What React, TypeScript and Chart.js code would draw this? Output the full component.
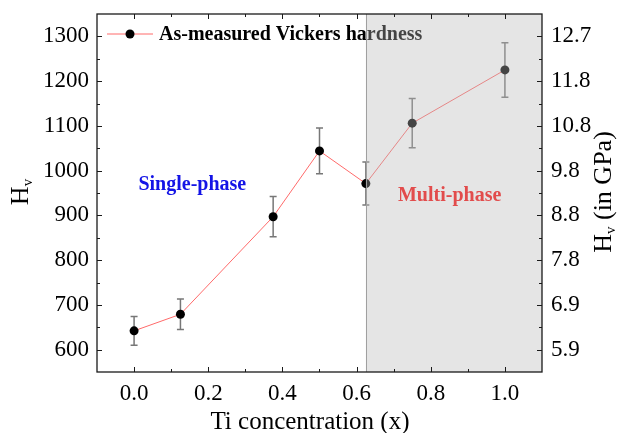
import React, { useEffect, useRef } from "react";
import { Chart, registerables } from "chart.js";

Chart.register(...registerables);

// Vickers hardness vs. Ti concentration
const tiConcentration = [0, 0.125, 0.375, 0.5, 0.625, 0.75, 1.0];
const hardnessHv = [642, 679, 897, 1044, 971, 1106, 1225];
const hardnessError = [32, 34, 45, 51, 48, 55, 61];

const xTickValues = [0, 0.2, 0.4, 0.6, 0.8, 1.0];
const xTickLabels = ["0.0", "0.2", "0.4", "0.6", "0.8", "1.0"];
const hvTickValues = [600, 700, 800, 900, 1000, 1100, 1200, 1300];
const gpaTickLabels = ["5.9", "6.9", "7.8", "8.8", "9.8", "10.8", "11.8", "12.7"];

const multiPhaseStart = 0.625;

const SERIF = "'Liberation Serif', 'Times New Roman', serif";

function drawSubscriptTitle(
  ctx: CanvasRenderingContext2D,
  cx: number,
  cy: number,
  rest: string
) {
  ctx.save();
  ctx.translate(cx, cy);
  ctx.rotate(-Math.PI / 2);
  ctx.fillStyle = "#000";
  ctx.textBaseline = "alphabetic";
  ctx.textAlign = "left";
  const big = `26px ${SERIF}`;
  const small = `15px ${SERIF}`;
  ctx.font = big;
  const wH = ctx.measureText("H").width;
  ctx.font = small;
  const wv = ctx.measureText("v").width;
  ctx.font = big;
  const wRest = rest ? ctx.measureText(rest).width : 0;
  const total = wH + wv + wRest;
  let x = -total / 2;
  const base = 8;
  ctx.font = big;
  ctx.fillText("H", x, base);
  x += wH;
  ctx.font = small;
  ctx.fillText("v", x, base + 4);
  x += wv;
  if (rest) {
    ctx.font = big;
    ctx.fillText(rest, x, base);
  }
  ctx.restore();
}

const decorations = {
  id: "decorations",
  beforeDatasetsDraw(chart: any) {
    const ctx: CanvasRenderingContext2D = chart.ctx;
    const xs = chart.scales.x;
    const ys = chart.scales.y;
    const area = chart.chartArea;

    // error bars
    ctx.save();
    ctx.strokeStyle = "#777777";
    ctx.lineWidth = 1.5;
    tiConcentration.forEach((xv, i) => {
      const px = xs.getPixelForValue(xv);
      const top = ys.getPixelForValue(hardnessHv[i] + hardnessError[i]);
      const bot = ys.getPixelForValue(hardnessHv[i] - hardnessError[i]);
      ctx.beginPath();
      ctx.moveTo(px, top);
      ctx.lineTo(px, bot);
      ctx.moveTo(px - 3.5, top);
      ctx.lineTo(px + 3.5, top);
      ctx.moveTo(px - 3.5, bot);
      ctx.lineTo(px + 3.5, bot);
      ctx.stroke();
    });
    ctx.restore();

    // legend
    ctx.save();
    const ly = area.top + 20;
    const lx = area.left + 10;
    ctx.strokeStyle = "#ff6a6a";
    ctx.lineWidth = 1;
    ctx.beginPath();
    ctx.moveTo(lx, ly);
    ctx.lineTo(lx + 46, ly);
    ctx.stroke();
    ctx.fillStyle = "#000";
    ctx.beginPath();
    ctx.arc(lx + 23, ly, 4.5, 0, Math.PI * 2);
    ctx.fill();
    ctx.font = `bold 20px ${SERIF}`;
    ctx.textBaseline = "middle";
    ctx.textAlign = "left";
    ctx.fillText("As-measured Vickers hardness", lx + 52, ly + 1);
    ctx.restore();
  },
  afterDatasetsDraw(chart: any) {
    const ctx: CanvasRenderingContext2D = chart.ctx;
    const xs = chart.scales.x;
    const ys = chart.scales.y;
    const area = chart.chartArea;

    // multi-phase region
    const sx = xs.getPixelForValue(multiPhaseStart);
    ctx.save();
    ctx.fillStyle = "rgba(184,184,184,0.37)";
    ctx.fillRect(sx, area.top, area.right - sx, area.bottom - area.top);
    ctx.strokeStyle = "#a0a0a0";
    ctx.lineWidth = 1;
    ctx.beginPath();
    ctx.moveTo(Math.round(sx) + 0.5, area.top);
    ctx.lineTo(Math.round(sx) + 0.5, area.bottom);
    ctx.stroke();
    ctx.restore();

    // region labels
    ctx.save();
    ctx.font = `bold 20px ${SERIF}`;
    ctx.textAlign = "center";
    ctx.textBaseline = "middle";
    ctx.fillStyle = "#1414e6";
    ctx.fillText("Single-phase", xs.getPixelForValue(0.157), ys.getPixelForValue(968));
    ctx.fillStyle = "#e24c4c";
    ctx.fillText("Multi-phase", xs.getPixelForValue(0.851), ys.getPixelForValue(943));
    ctx.restore();

    // frame
    ctx.save();
    ctx.strokeStyle = "#1a1a1a";
    ctx.lineWidth = 1.3;
    ctx.strokeRect(area.left, area.top, area.right - area.left, area.bottom - area.top);

    // inward ticks, major and minor, on all four sides
    ctx.lineWidth = 1;
    ctx.beginPath();
    const major = 5;
    const minor = 3;
    for (let v = -0.1; v <= 1.1001; v += 0.1) {
      const isMajor = Math.abs(Math.round(v * 10) % 2) === 0;
      const len = isMajor ? major : minor;
      const px = Math.round(xs.getPixelForValue(v)) + 0.5;
      if (px <= area.left + 1 || px >= area.right - 1) continue;
      ctx.moveTo(px, area.bottom);
      ctx.lineTo(px, area.bottom - len);
      ctx.moveTo(px, area.top);
      ctx.lineTo(px, area.top + len);
    }
    for (let v = 550; v <= 1350; v += 50) {
      const isMajor = v % 100 === 0;
      const len = isMajor ? major : minor;
      const py = Math.round(ys.getPixelForValue(v)) + 0.5;
      if (py <= area.top + 1 || py >= area.bottom - 1) continue;
      ctx.moveTo(area.left, py);
      ctx.lineTo(area.left + len, py);
      ctx.moveTo(area.right, py);
      ctx.lineTo(area.right - len, py);
    }
    ctx.stroke();
    ctx.restore();

    // axis titles
    ctx.save();
    ctx.fillStyle = "#000";
    ctx.font = `25px ${SERIF}`;
    ctx.textAlign = "center";
    ctx.textBaseline = "alphabetic";
    ctx.fillText("Ti concentration (x)", 310, 429);
    ctx.restore();
    drawSubscriptTitle(ctx, 20, 192, "");
    drawSubscriptTitle(ctx, 603, 192, " (in GPa)");
  },
};

export default function App() {
  const canvasRef = useRef<HTMLCanvasElement | null>(null);

  useEffect(() => {
    document.body.style.margin = "0";
    const canvas = canvasRef.current;
    if (!canvas) return;

    const tickFont = { family: SERIF, size: 23 };
    const fixVertical = (width: number) => (s: any) => {
      s.width = width;
      s.paddingTop = 0;
      s.paddingBottom = 0;
    };

    const chart = new Chart(canvas, {
      type: "line",
      data: {
        datasets: [
          {
            label: "As-measured Vickers hardness",
            data: tiConcentration.map((x, i) => ({ x, y: hardnessHv[i] })),
            borderColor: "#ff6a6a",
            borderWidth: 1,
            backgroundColor: "#000",
            pointBackgroundColor: "#000",
            pointBorderColor: "#000",
            pointRadius: 4.5,
            pointBorderWidth: 0,
            tension: 0,
          },
        ],
      },
      options: {
        responsive: false,
        animation: false,
        devicePixelRatio: 1,
        layout: { padding: { top: 14, left: 0, right: 0, bottom: 0 } },
        plugins: {
          legend: { display: false },
          tooltip: { enabled: false },
        },
        scales: {
          x: {
            type: "linear",
            min: -0.1,
            max: 1.1,
            grid: { display: false, drawTicks: false },
            border: { display: false },
            afterBuildTicks: (s: any) => {
              s.ticks = xTickValues.map((value) => ({ value }));
            },
            afterFit: (s: any) => {
              s.height = 61;
              s.paddingLeft = 0;
              s.paddingRight = 0;
            },
            ticks: {
              color: "#000",
              font: tickFont,
              padding: 8,
              maxRotation: 0,
              autoSkip: false,
              callback: (_v: any, i: number) => xTickLabels[i],
            },
          },
          y: {
            type: "linear",
            position: "left",
            min: 550,
            max: 1350,
            grid: { display: false, drawTicks: false },
            border: { display: false },
            afterBuildTicks: (s: any) => {
              s.ticks = hvTickValues.map((value) => ({ value }));
            },
            afterFit: fixVertical(97),
            ticks: {
              color: "#000",
              font: tickFont,
              padding: 8,
              autoSkip: false,
              callback: (v: any) => String(v),
            },
          },
          y2: {
            type: "linear",
            position: "right",
            min: 550,
            max: 1350,
            grid: { display: false, drawTicks: false },
            border: { display: false },
            afterBuildTicks: (s: any) => {
              s.ticks = hvTickValues.map((value) => ({ value }));
            },
            afterFit: fixVertical(76),
            ticks: {
              color: "#000",
              font: tickFont,
              padding: 9,
              autoSkip: false,
              callback: (_v: any, i: number) => gpaTickLabels[i],
            },
          },
        },
      },
      plugins: [decorations],
    } as any);

    return () => chart.destroy();
  }, []);

  return <canvas ref={canvasRef} width={618} height={433} />;
}
